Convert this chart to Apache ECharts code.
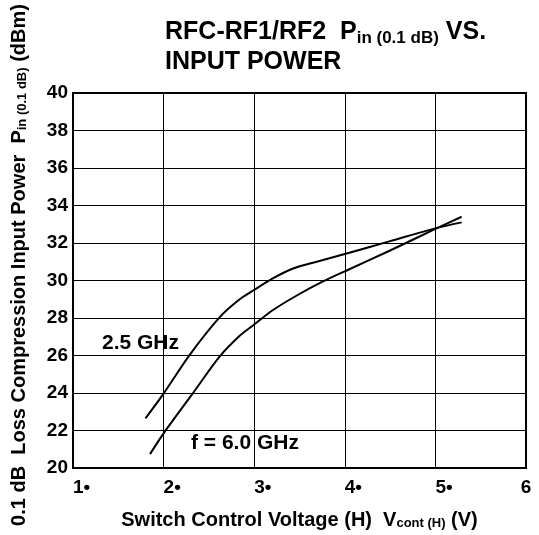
<!DOCTYPE html>
<html>
<head>
<meta charset="utf-8">
<title>Pin vs Vcont</title>
<script src="https://cdn.jsdelivr.net/npm/echarts@6/dist/echarts.min.js"></script>
<style>
  html, body { margin: 0; padding: 0; background: #fff; }
  #chart { width: 539px; height: 535px; }
</style>
</head>
<body>
<div id="chart"></div>
<script>
// switch control voltage (V) and Pin(0.1 dB) in dBm
var v25 = [1.80, 1.99, 2.29, 2.62, 2.84, 3.00, 3.20, 3.43, 3.69, 4.05, 4.50, 5.00, 5.29];
var p25 = [22.65, 23.9, 26.05, 28.05, 29.0, 29.5, 30.1, 30.64, 31.0, 31.48, 32.1, 32.78, 33.1];
var v60 = [1.85, 2.00, 2.31, 2.62, 2.84, 3.00, 3.20, 3.47, 3.76, 4.05, 4.50, 5.00, 5.29];
var p60 = [20.74, 21.85, 23.9, 25.95, 27.05, 27.65, 28.4, 29.2, 29.95, 30.6, 31.6, 32.75, 33.4];
var xMin = 1, xMax = 6, xStep = 1;
var yMin = 20, yMax = 40, yStep = 2;

var font = '"Liberation Sans", Arial, sans-serif';

function pairs(xs, ys) {
  return xs.map(function (x, i) { return [x, ys[i]]; });
}

var chart = echarts.init(document.getElementById('chart'));
chart.setOption({
  animation: false,
  backgroundColor: '#fff',
  title: {
    left: 160, top: 12,
    text: '{b|RFC-RF1/RF2  P}{s|in (0.1 dB)}{b| VS.}\n{b|INPUT POWER}',
    textStyle: {
      rich: {
        b: { fontFamily: font, fontSize: 25, fontWeight: 'bold', color: '#000', lineHeight: 30 },
        s: { fontFamily: font, fontSize: 17, fontWeight: 'bold', color: '#000', verticalAlign: 'bottom', lineHeight: 30 }
      }
    }
  },
  grid: {
    left: 73, right: 13, top: 93, bottom: 64,
    show: true, borderColor: '#000', borderWidth: 2
  },
  xAxis: {
    type: 'value', min: xMin, max: xMax, interval: xStep,
    axisLine: { show: true, lineStyle: { color: '#000', width: 2 } },
    axisTick: { show: false },
    splitLine: { show: true, lineStyle: { color: '#000', width: 1 } },
    axisLabel: {
      color: '#000', fontFamily: font, fontSize: 19, fontWeight: 'bold', margin: 10,
      align: 'left', alignMaxLabel: 'center',
      formatter: function (v) { return v < xMax ? v + '•' : String(v); }
    },
    name: '{b|Switch Control Voltage (H)  V}{s|cont (H)}{b| (V)}',
    nameLocation: 'middle', nameGap: 42,
    nameTextStyle: {
      rich: {
        b: { fontFamily: font, fontSize: 20, fontWeight: 'bold', color: '#000' },
        s: { fontFamily: font, fontSize: 13, fontWeight: 'bold', color: '#000', verticalAlign: 'bottom' }
      }
    }
  },
  yAxis: {
    type: 'value', min: yMin, max: yMax, interval: yStep,
    axisLine: { show: true, lineStyle: { color: '#000', width: 2 } },
    axisTick: { show: false },
    splitLine: { show: true, lineStyle: { color: '#000', width: 1 } },
    axisLabel: { color: '#000', fontFamily: font, fontSize: 19, fontWeight: 'bold', margin: 5 }
  },
  graphic: [
    {
      type: 'text', x: 19, y: 265, rotation: Math.PI / 2,
      style: {
        text: '{b|0.1 dB  Loss Compression Input Power  P}{s|in (0.1 dB)}{b| (dBm)}',
        align: 'center', verticalAlign: 'middle',
        rich: {
          b: { fontFamily: font, fontSize: 20, fontWeight: 'bold', fill: '#000' },
          s: { fontFamily: font, fontSize: 13, fontWeight: 'bold', fill: '#000', verticalAlign: 'bottom' }
        }
      }
    },
    { type: 'text', x: 102, y: 343, style: { text: '2.5 GHz', fontFamily: font, fontSize: 21, fontWeight: 'bold', fill: '#000', verticalAlign: 'middle' } },
    { type: 'text', x: 191, y: 443, style: { text: 'f = 6.0 GHz', fontFamily: font, fontSize: 21, fontWeight: 'bold', fill: '#000', verticalAlign: 'middle' } }
  ],
  series: [
    {
      name: '2.5 GHz', type: 'line', smooth: 0.3, symbol: 'none',
      lineStyle: { color: '#000', width: 2 },
      data: pairs(v25, p25)
    },
    {
      name: '6.0 GHz', type: 'line', smooth: 0.3, symbol: 'none',
      lineStyle: { color: '#000', width: 2 },
      data: pairs(v60, p60)
    }
  ]
});
</script>
</body>
</html>
